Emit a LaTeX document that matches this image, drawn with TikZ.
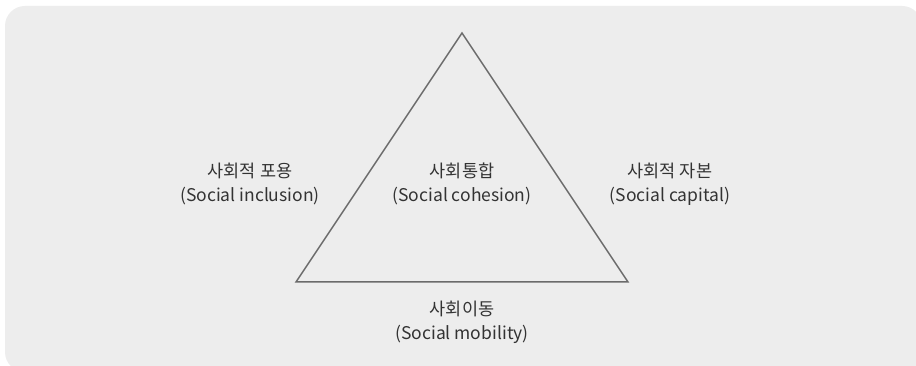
\documentclass[tikz,border=0pt]{standalone}
\usepackage{fontspec}
\setmainfont{Noto Sans CJK KR}
\begin{document}
\begin{tikzpicture}[x=1pt,y=-1pt,
  lbl/.style={align=center,text=black!80,font=\fontsize{17.5}{24}\selectfont,inner sep=0pt},
  edge/.style={draw=black!58,line width=1.5pt,line join=miter}]
\useasboundingbox (0,0) rectangle (916,366);
\fill[white] (0,0) rectangle (916,366);
\fill[black!7,rounded corners=20pt] (5,6) rectangle (922,372);
\coordinate (A) at (462,33);
\coordinate (B) at (296,282);
\coordinate (C) at (628,282);
\draw[edge] (A) -- (B) -- (C) -- cycle;
\node[lbl] (left) at (250,184) {사회적 포용\\(Social inclusion)};
\node[lbl] (mid) at (462,184) {사회통합\\(Social cohesion)};
\node[lbl] (right) at (670,184) {사회적 자본\\(Social capital)};
\node[lbl] (bot) at (462,322) {사회이동\\(Social mobility)};
\end{tikzpicture}
\end{document}
